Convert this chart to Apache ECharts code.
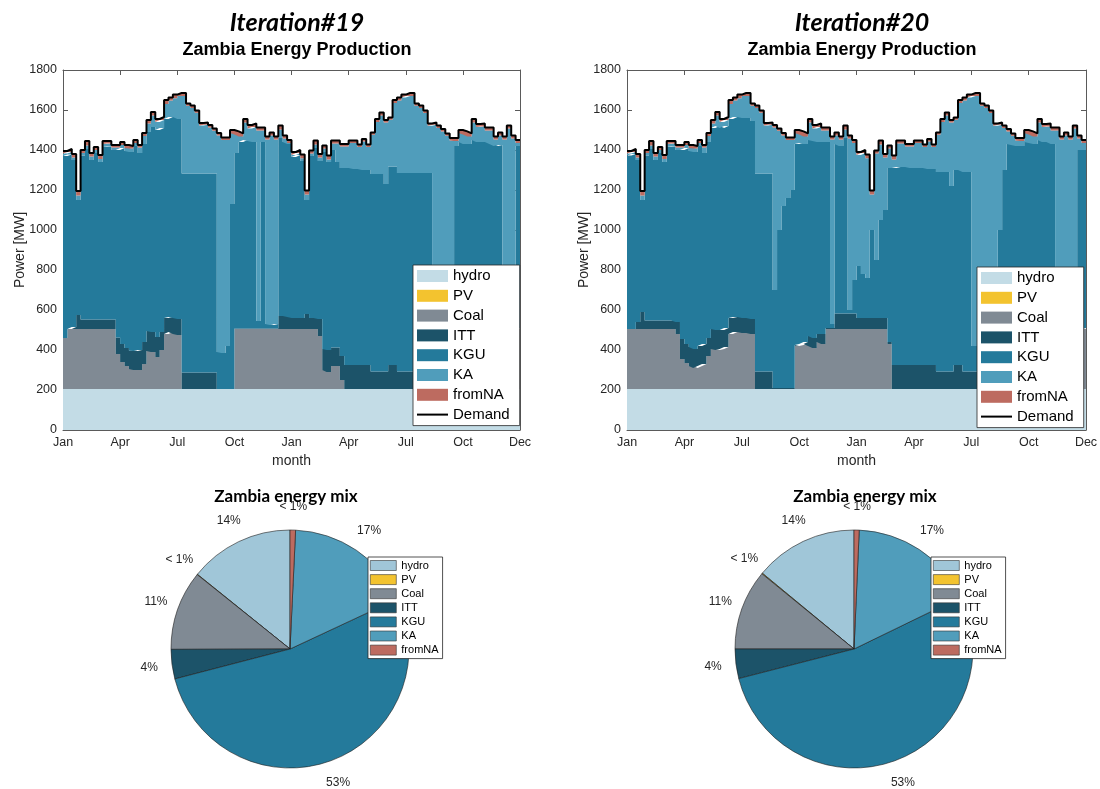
<!DOCTYPE html>
<html>
<head>
<meta charset="utf-8">
<script src="https://cdn.jsdelivr.net/npm/echarts@6/dist/echarts.min.js"></script>
<style>
  html, body { margin: 0; padding: 0; background: #fff; }
  #wrap { position: relative; width: 1100px; height: 789px; overflow: hidden; }
  .panel { position: absolute; }
</style>
</head>
<body>
<div id="wrap">
  <div id="areaL" class="panel" style="left:0;top:0;width:550px;height:475px"></div>
  <div id="areaR" class="panel" style="left:550px;top:0;width:550px;height:475px"></div>
  <div id="pieL" class="panel" style="left:0;top:475px;width:550px;height:314px"></div>
  <div id="pieR" class="panel" style="left:550px;top:475px;width:550px;height:314px"></div>
</div>
<script>
// ---- weekly production, two years (week 0 .. week 104), MW ----
// 13 weeks per quarter: a month tick every 13th week
const MONTH_TICKS = ['Jan', 'Apr', 'Jul', 'Oct', 'Jan', 'Apr', 'Jul', 'Oct', 'Dec'];
const WEEKS_PER_TICK = 13;
const SOURCES = ['hydro', 'PV', 'Coal', 'ITT', 'KGU', 'KA', 'fromNA'];

const DEMAND = [
  1395,1405,1380,1195,1400,1445,1385,1415,1375,1445,
  1445,1425,1425,1440,1425,1420,1450,1425,1485,1550,
  1590,1555,1565,1650,1663,1677,1685,1685,1633,1622,
  1598,1535,1538,1525,1508,1485,1462,1462,1500,1493,
  1483,1555,1525,1533,1513,1513,1467,1488,1467,1522,
  1472,1450,1390,1400,1377,1197,1397,1447,1380,1422,
  1372,1447,1447,1430,1430,1447,1447,1427,1455,1427,
  1488,1555,1588,1550,1563,1650,1663,1677,1685,1685,
  1633,1622,1597,1533,1538,1522,1505,1483,1460,1460,
  1500,1493,1483,1555,1530,1533,1513,1513,1467,1488,
  1467,1522,1472,1450,1450
];

const HYDRO = [
  205,205,205,205,205,205,205,205,205,205,
  205,205,205,205,205,205,205,205,205,205,
  205,205,205,205,205,205,205,205,205,205,
  205,205,205,205,205,205,205,205,205,205,
  205,205,205,205,205,205,205,205,205,205,
  205,205,205,205,205,205,205,205,205,205,
  205,205,205,205,205,205,205,205,205,205,
  205,205,205,205,205,205,205,205,205,205,
  205,205,205,205,205,205,205,205,205,205,
  205,205,205,205,205,205,205,205,205,205,
  205,205,205,205,205
];

const PV = [
  0,0,0,0,0,0,0,0,0,0, 0,0,0,0,0,0,0,0,0,0,
  0,0,0,0,0,0,0,0,0,0, 0,0,0,0,0,0,0,0,0,0,
  0,0,0,0,0,0,0,0,0,0, 0,0,0,0,0,0,0,0,0,0,
  0,0,0,0,0,0,0,0,0,0, 0,0,0,0,0,0,0,0,0,0,
  0,0,0,0,0,0,0,0,0,0, 0,0,0,0,0,0,0,0,0,0,
  0,0,0,0,0
];

// Iteration #19
const COAL_19 = [
  255,300,300,300,300,300,300,300,300,300,
  300,300,175,135,115,100,95,95,125,190,
  185,160,195,275,285,275,270,0,0,0,
  0,0,0,0,0,0,0,0,0,300,
  300,300,300,300,300,300,300,300,300,300,
  300,300,300,300,300,300,300,300,265,95,
  85,115,115,45,0,0,0,0,0,0,
  0,0,0,0,0,0,0,0,0,0,
  0,0,0,0,0,0,0,0,0,0,
  0,0,0,0,0,0,0,0,0,0,
  0,0,0,300,300
];
const ITT_19 = [
  0,0,10,70,48,48,48,48,48,48,
  48,48,82,90,90,93,95,100,110,100,
  100,100,90,80,75,80,80,83,83,83,
  83,83,83,83,83,0,0,0,0,3,
  3,3,3,3,3,3,3,3,3,65,
  65,60,55,55,55,75,55,55,85,105,
  110,92,92,120,120,120,120,120,120,120,
  87,87,87,87,120,120,87,87,87,87,
  87,87,87,87,87,87,87,87,87,87,
  87,87,87,87,87,87,87,87,87,87,
  87,87,87,5,5
];
const KGU_19 = [
  910,873,835,575,819,852,797,832,787,862,
  865,847,938,980,985,992,1025,985,990,995,
  1025,1035,1020,995,1000,1005,1000,995,995,995,
  995,995,995,995,995,185,180,215,925,877,
  932,942,937,932,37,932,22,17,22,890,
  870,865,805,815,785,570,810,850,790,985,
  940,988,928,940,985,985,980,980,975,975,
  988,988,988,938,992,992,993,993,993,993,
  993,993,993,993,128,128,128,128,128,1128,
  1148,1138,1138,1158,1148,1148,1148,1138,1128,1133,
  128,128,128,910,910
];
const KA_19 = [
  13,12,12,23,13,18,17,15,15,15,
  15,13,13,15,15,18,15,28,40,42,
  57,40,40,75,83,94,115,387,338,327,
  303,240,243,230,213,1083,1065,1030,355,93,
  28,87,62,75,953,58,922,948,922,42,
  17,5,10,10,14,27,12,17,17,17,
  12,32,92,108,108,125,130,110,143,115,
  196,260,293,308,234,318,363,377,385,385,
  336,325,300,236,1106,1090,1073,1051,1028,25,
  45,48,38,87,75,78,58,68,32,48,
  1032,1087,1037,15,15
];
const NA_19 = [
  12,15,18,22,15,22,18,15,20,15,
  12,12,12,15,15,12,15,12,15,18,
  18,15,15,20,15,18,15,15,12,12,
  12,12,12,12,12,12,12,12,15,15,
  15,18,18,18,15,15,15,15,15,20,
  15,15,15,15,18,20,15,20,18,15,
  20,15,15,12,12,12,12,12,12,12,
  12,15,15,12,12,15,15,15,15,15,
  12,12,12,12,12,12,12,12,12,15,
  15,15,15,18,15,15,15,15,15,15,
  15,15,15,15,15
];

// Iteration #20
const COAL_20 = [
  300,300,300,300,300,300,300,300,300,300,
  300,275,150,130,115,105,115,125,165,200,
  195,200,210,275,285,285,280,280,275,0,
  0,0,0,0,0,0,0,0,215,220,
  225,215,205,235,225,300,300,300,300,300,
  300,300,300,300,300,300,300,300,300,225,
  0,0,0,0,0,0,0,0,0,0,
  0,0,0,0,0,0,0,0,0,0,
  0,0,0,0,0,0,0,0,0,0,
  0,0,0,0,0,0,0,0,0,0,
  0,0,0,300,300
];
const ITT_20 = [
  0,0,35,85,43,43,43,43,43,43,
  43,60,100,95,95,95,100,100,90,100,
  100,95,95,80,75,75,75,75,75,87,
  87,87,87,5,5,5,5,5,5,5,
  10,50,50,40,50,5,5,78,78,78,
  78,78,55,55,55,55,55,55,55,10,
  120,120,120,120,120,120,120,120,120,120,
  87,87,87,87,120,120,87,87,87,87,
  87,87,87,87,87,87,87,87,87,87,
  87,87,87,87,87,87,87,87,87,87,
  87,87,87,5,5
];
const KGU_20 = [
  867,875,810,560,824,857,802,837,792,867,
  870,860,945,980,980,985,1000,955,980,1005,
  1020,1010,1010,995,1000,1000,1000,1000,990,991,
  991,991,991,490,790,910,950,990,1005,1005,
  990,980,985,960,960,930,20,847,837,877,
  17,167,260,220,200,440,290,490,540,870,
  985,990,990,990,985,985,985,985,980,980,
  998,998,998,928,975,975,998,998,128,128,
  128,128,128,128,708,1008,1138,1133,1128,1128,
  1148,1143,1138,1158,1148,1148,1138,128,128,128,
  128,128,1108,890,890
];
const KA_20 = [
  11,10,12,23,13,18,17,15,15,15,
  15,13,13,15,15,18,15,28,30,22,
  52,30,30,75,83,94,110,110,76,327,
  303,240,243,813,496,353,290,250,55,43,
  38,87,62,75,58,58,922,43,32,42,
  857,685,555,605,599,177,532,377,262,97,
  42,117,117,103,108,125,125,105,138,110,
  186,250,283,318,251,335,358,372,1250,1250,
  1201,1190,1165,1101,526,210,63,46,28,25,
  45,43,38,87,75,78,68,1078,1032,1053,
  1032,1087,57,35,35
];
const NA_20 = [
  12,15,18,22,15,22,18,15,20,15,
  12,12,12,15,15,12,15,12,15,18,
  18,15,15,20,15,18,15,15,12,12,
  12,12,12,12,12,12,12,12,15,15,
  15,18,18,18,15,15,15,15,15,20,
  15,15,15,15,18,20,15,20,18,15,
  20,15,15,12,12,12,12,12,12,12,
  12,15,15,12,12,15,15,15,15,15,
  12,12,12,12,12,12,12,12,12,15,
  15,15,15,15,15,15,15,15,15,15,
  15,15,15,15,15
];

// ---- energy mix shares (%) ----
const MIX_19 = [14.2, 0.05, 10.8, 4.0, 52.9, 17.3, 0.75];
const MIX_20 = [14.0, 0.1, 10.9, 4.0, 53.2, 17.1, 0.7];

// ---- styling ----
const AREA_COLORS = {
  hydro: '#c3dce6', PV: '#f3c32f', Coal: '#808a94', ITT: '#1c5369',
  KGU: '#247a9b', KA: '#509dbb', fromNA: '#bd6b60'
};
const PIE_COLORS = {
  hydro: '#a0c6d8', PV: '#f3c32f', Coal: '#808a94', ITT: '#1c5369',
  KGU: '#247a9b', KA: '#509dbb', fromNA: '#bd6b60'
};
const SANS = '"Liberation Sans", Arial, Helvetica, sans-serif';
const HEAD = 'Lato, "Open Sans", sans-serif';
const INK = '#262626';
const FRAME = '#5a5a5a';
const LINE_ICON = 'path://M0,0H31V2H0Z';

const WEEK_INDEX = DEMAND.map((_, i) => i);

function frameAxis(extra) {
  return Object.assign({
    axisLine: { show: true, onZero: false, lineStyle: { color: FRAME, width: 1 } },
    axisTick: { show: true, inside: true, length: 5, lineStyle: { color: FRAME, width: 1 } },
    splitLine: { show: false }
  }, extra);
}

function weekAxis(extra) {
  return frameAxis(Object.assign({
    type: 'category', data: WEEK_INDEX, boundaryGap: false
  }, extra, {
    axisTick: { show: true, inside: true, length: 5, interval: WEEKS_PER_TICK - 1,
      lineStyle: { color: FRAME, width: 1 } }
  }));
}

function areaOption(iterLabel, layers, plot) {
  const series = SOURCES.map(name => ({
    type: 'line',
    name: name,
    stack: 'gen',
    step: 'end',
    symbol: 'none',
    color: AREA_COLORS[name],
    lineStyle: { width: 0 },
    areaStyle: { color: AREA_COLORS[name], opacity: 1 },
    emphasis: { disabled: true },
    silent: true,
    data: layers[name]
  }));
  series.push({
    type: 'line',
    name: 'Demand',
    step: 'end',
    symbol: 'none',
    color: '#000',
    lineStyle: { color: '#000', width: 2 },
    emphasis: { disabled: true },
    silent: true,
    z: 5,
    data: DEMAND
  });

  return {
    animation: false,
    title: [
      { text: iterLabel, left: plot.center, top: 5, textAlign: 'center',
        textStyle: { fontFamily: HEAD, fontSize: 25, fontWeight: 'bold', fontStyle: 'italic', color: '#000' } },
      { text: 'Zambia Energy Production', left: plot.center, top: 36, textAlign: 'center',
        textStyle: { fontFamily: SANS, fontSize: 18, fontWeight: 'bold', color: '#000' } }
    ],
    grid: { left: plot.left, top: 70, width: plot.width, height: 360, outerBoundsMode: 'none', containLabel: false },
    xAxis: [
      weekAxis({
        position: 'bottom',
        axisLabel: { color: INK, fontFamily: SANS, fontSize: 12.5, margin: 6,
          interval: WEEKS_PER_TICK - 1,
          formatter: (v, i) => MONTH_TICKS[Math.round(i / WEEKS_PER_TICK)] },
        name: 'month', nameLocation: 'middle', nameGap: 24, nameMoveOverlap: false,
        nameTextStyle: { color: INK, fontFamily: SANS, fontSize: 14 }
      }),
      weekAxis({ position: 'top', axisLabel: { show: false } })
    ],
    yAxis: [
      frameAxis({
        type: 'value', min: 0, max: 1800, interval: 200, position: 'left',
        axisLabel: { color: INK, fontFamily: SANS, fontSize: 12.5, margin: 6, formatter: v => String(v) },
        name: 'Power [MW]', nameLocation: 'middle', nameGap: 36, nameRotate: 90, nameMoveOverlap: false,
        nameTextStyle: { color: INK, fontFamily: SANS, fontSize: 14 }
      }),
      frameAxis({ type: 'value', min: 0, max: 1800, interval: 200, position: 'right', axisLabel: { show: false } })
    ],
    legend: {
      orient: 'vertical', left: plot.legendLeft, top: plot.legendTop,
      padding: [3, 10, 3, 4], itemWidth: 31, itemHeight: 12, itemGap: 3.8,
      backgroundColor: '#fff', borderColor: INK, borderWidth: 0.8, borderRadius: 0,
      selectedMode: false,
      itemStyle: { borderWidth: 0 },
      textStyle: { color: '#000', fontFamily: SANS, fontSize: 15, lineHeight: 16 },
      data: SOURCES.map(n => ({ name: n, icon: 'rect' })).concat([{ name: 'Demand', icon: LINE_ICON }])
    },
    series: series
  };
}

function pieOption(shares, pos) {
  return {
    animation: false,
    title: {
      text: 'Zambia energy mix', left: pos.titleX, top: 8, textAlign: 'center',
      textStyle: { fontFamily: HEAD, fontSize: 17, fontWeight: 'bold', color: '#000' }
    },
    legend: {
      orient: 'vertical', left: pos.legendLeft, top: 82,
      padding: [3, 4, 3, 2], itemWidth: 26, itemHeight: 10, itemGap: 3.1,
      backgroundColor: '#fff', borderColor: INK, borderWidth: 0.8, borderRadius: 0,
      selectedMode: false,
      itemStyle: { borderColor: '#333', borderWidth: 0.6 },
      textStyle: { color: '#000', fontFamily: SANS, fontSize: 11, lineHeight: 11 },
      data: SOURCES.map(n => ({ name: n, icon: 'rect' }))
    },
    series: [{
      type: 'pie',
      center: [pos.cx, 174],
      radius: 119,
      startAngle: 90,
      clockwise: false,
      avoidLabelOverlap: false,
      silent: true,
      emphasis: { disabled: true },
      itemStyle: { borderColor: '#1e1e1e', borderWidth: 0.6 },
      label: {
        show: true, position: 'outside', distanceToLabelLine: 0,
        color: INK, fontFamily: SANS, fontSize: 12,
        formatter: p => (p.percent < 1 ? '< 1%' : Math.round(p.percent) + '%')
      },
      labelLine: { show: false, length: 23, length2: 0 },
      labelLayout: () => ({ align: 'center', verticalAlign: 'middle' }),
      data: SOURCES.map((n, i) => ({ name: n, value: shares[i], itemStyle: { color: PIE_COLORS[n] } }))
    }]
  };
}

const layers19 = { hydro: HYDRO, PV: PV, Coal: COAL_19, ITT: ITT_19, KGU: KGU_19, KA: KA_19, fromNA: NA_19 };
const layers20 = { hydro: HYDRO, PV: PV, Coal: COAL_20, ITT: ITT_20, KGU: KGU_20, KA: KA_20, fromNA: NA_20 };

echarts.init(document.getElementById('areaL'), null, { renderer: 'canvas' })
  .setOption(areaOption('Iteration#19', layers19,
    { left: 63, width: 457, center: 292, legendLeft: 413, legendTop: 265 }));
echarts.init(document.getElementById('areaR'), null, { renderer: 'canvas' })
  .setOption(areaOption('Iteration#20', layers20,
    { left: 77, width: 459, center: 307, legendLeft: 427, legendTop: 267 }));
echarts.init(document.getElementById('pieL'), null, { renderer: 'canvas' })
  .setOption(pieOption(MIX_19, { cx: 290, titleX: 281, legendLeft: 368 }));
echarts.init(document.getElementById('pieR'), null, { renderer: 'canvas' })
  .setOption(pieOption(MIX_20, { cx: 304, titleX: 310, legendLeft: 381 }));
</script>
</body>
</html>
